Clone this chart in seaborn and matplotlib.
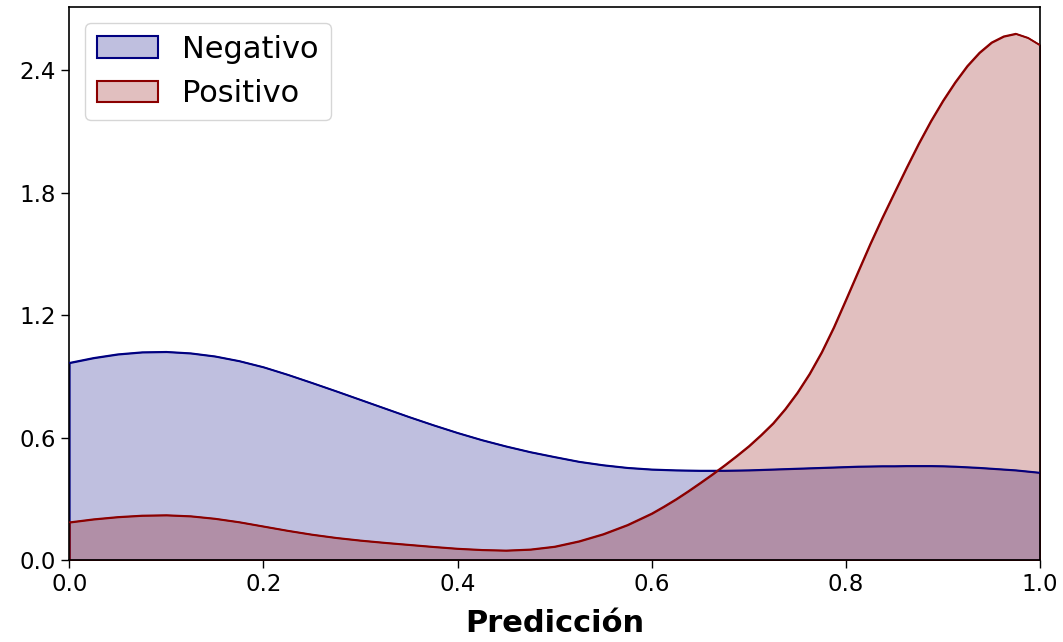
import numpy as np
import pandas as pd
import matplotlib
matplotlib.use("Agg")
import matplotlib.pyplot as plt
from matplotlib.patches import Patch
import seaborn as sns

# Estimated class densities of the model score (finer sampling where the curves bend most)
prediccion = [0.000, 0.025, 0.050, 0.075, 0.100, 0.125, 0.150, 0.175, 0.200,
              0.225, 0.250, 0.275, 0.300, 0.325, 0.350, 0.375, 0.400, 0.425,
              0.450, 0.475, 0.500, 0.525, 0.550, 0.575, 0.600, 0.6125, 0.625,
              0.6375, 0.650, 0.6625, 0.675, 0.6875, 0.700, 0.7125, 0.725, 0.7375,
              0.750, 0.7625, 0.775, 0.7875, 0.800, 0.8125, 0.825, 0.8375, 0.850,
              0.8625, 0.875, 0.8875, 0.900, 0.9125, 0.925, 0.9375, 0.950, 0.9625,
              0.975, 0.9875, 1.000]

densidad_negativo = [0.966, 0.990, 1.008, 1.018, 1.020, 1.013, 0.998, 0.975, 0.945,
                     0.908, 0.868, 0.827, 0.785, 0.743, 0.701, 0.661, 0.623, 0.588,
                     0.557, 0.529, 0.505, 0.482, 0.465, 0.452, 0.444, 0.442, 0.440,
                     0.439, 0.438, 0.438, 0.438, 0.439, 0.440, 0.442, 0.444, 0.446,
                     0.448, 0.450, 0.452, 0.454, 0.456, 0.458, 0.459, 0.460, 0.460,
                     0.461, 0.461, 0.461, 0.460, 0.458, 0.455, 0.452, 0.448, 0.444,
                     0.440, 0.434, 0.428]

densidad_positivo = [0.185, 0.200, 0.211, 0.218, 0.220, 0.215, 0.203, 0.186, 0.165,
                     0.144, 0.125, 0.109, 0.096, 0.085, 0.075, 0.065, 0.056, 0.050,
                     0.047, 0.052, 0.066, 0.092, 0.127, 0.172, 0.228, 0.262, 0.298,
                     0.337, 0.378, 0.420, 0.464, 0.510, 0.558, 0.612, 0.670, 0.740,
                     0.820, 0.912, 1.018, 1.140, 1.275, 1.412, 1.548, 1.677, 1.800,
                     1.922, 2.040, 2.150, 2.250, 2.340, 2.420, 2.485, 2.535, 2.565,
                     2.578, 2.558, 2.522]

clases = ["Negativo", "Positivo"]
colores = {"Negativo": "navy", "Positivo": "darkred"}
y_ticks = [0.0, 0.6, 1.2, 1.8, 2.4]
x_ticks = [0.0, 0.2, 0.4, 0.6, 0.8, 1.0]

df = pd.concat([
    pd.DataFrame({"Predicción": prediccion, "Densidad": densidad_negativo, "Clase": "Negativo"}),
    pd.DataFrame({"Predicción": prediccion, "Densidad": densidad_positivo, "Clase": "Positivo"}),
], ignore_index=True)

fig = plt.figure(figsize=(10.63, 6.42), dpi=100)
ax = fig.add_axes([0.0652, 0.1277, 0.9132, 0.8609])

sns.lineplot(data=df, x="Predicción", y="Densidad", hue="Clase", hue_order=clases,
             palette=colores, linewidth=1.2, legend=False, ax=ax, zorder=3)

for clase in clases:
    sub = df[df["Clase"] == clase]
    ax.fill_between(sub["Predicción"], 0, sub["Densidad"],
                    facecolor=matplotlib.colors.to_rgba(colores[clase], 0.25),
                    edgecolor=colores[clase], linewidth=1.2, zorder=2)

ax.set_xlim(0, 1)
ax.set_ylim(0, 2.707)
ax.set_yticks(y_ticks)
ax.set_yticklabels([f"{v:.1f}" for v in y_ticks])
ax.set_xticks(x_ticks)
ax.set_xticklabels([f"{v:.1f}" for v in x_ticks])
ax.tick_params(labelsize=16.5, length=6, width=1)
ax.set_xlabel("Predicción", fontsize=22, fontweight="bold", labelpad=9)
ax.set_ylabel("")
for s in ax.spines.values():
    s.set_linewidth(1.2)

handles = [Patch(facecolor=matplotlib.colors.to_rgba(colores[c], 0.25),
                 edgecolor=colores[c], linewidth=1.5, label=c) for c in clases]
ax.legend(handles=handles, loc="upper left", fontsize=22)

fig.savefig("out.png", dpi=100)
